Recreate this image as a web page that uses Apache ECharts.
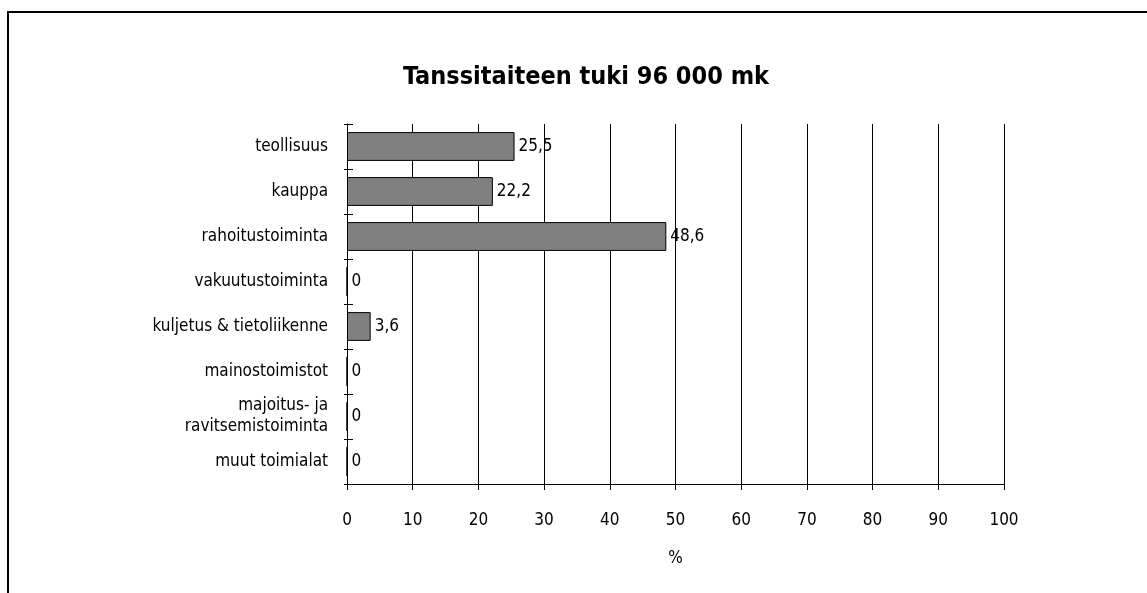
<!DOCTYPE html>
<html>
<head>
<meta charset="utf-8">
<script src="https://cdn.jsdelivr.net/npm/echarts@6/dist/echarts.min.js"></script>
<style>
  html, body { margin: 0; padding: 0; background: #fff; overflow: hidden; }
  #frame { position: absolute; left: 7px; top: 11px; width: 1200px; height: 700px; border: 2px solid #000; }
  #chart { position: absolute; left: 0; top: 0; width: 1147px; height: 593px; }
</style>
</head>
<body>
<div id="frame"></div>
<div id="chart"></div>
<script>
  // tietoja kuvasta
  const categories = ['teollisuus', 'kauppa', 'rahoitustoiminta', 'vakuutustoiminta',
    'kuljetus & tietoliikenne', 'mainostoimistot', 'majoitus- ja\nravitsemistoiminta', 'muut toimialat']
  const values = [25.5, 22.2, 48.6, 0, 3.6, 0, 0, 0]
  const xTicks = [0, 10, 20, 30, 40, 50, 60, 70, 80, 90, 100]

  const font = '"DejaVu Sans Condensed", "Liberation Sans", sans-serif'
  const chart = echarts.init(document.getElementById('chart'))

  chart.setOption({
    animation: false,
    title: {
      text: 'Tanssitaiteen tuki 96 000 mk',
      left: 581,
      textAlign: 'center',
      top: 60,
      textStyle: { fontFamily: font, fontSize: 25, fontWeight: 'bold', color: '#000' }
    },
    grid: { left: 347, right: 143, top: 124, bottom: 109 },
    xAxis: {
      type: 'value',
      min: xTicks[0],
      max: xTicks[xTicks.length - 1],
      interval: 10,
      name: '%',
      nameLocation: 'middle',
      nameGap: 66,
      nameTextStyle: { fontFamily: font, fontSize: 17, color: '#000' },
      axisLine: { show: true, lineStyle: { color: '#000', width: 1 } },
      axisTick: { show: true, length: 6, lineStyle: { color: '#000' } },
      axisLabel: { fontFamily: font, fontSize: 17, color: '#000', margin: 28 },
      splitLine: { show: true, lineStyle: { color: '#000', width: 1 } }
    },
    yAxis: [{
      type: 'category',
      data: categories,
      inverse: true,
      axisLine: { show: true, lineStyle: { color: '#000', width: 1 } },
      axisTick: { show: true, length: 3, lineStyle: { color: '#000' } },
      axisLabel: { fontFamily: font, fontSize: 17, color: '#000', margin: 19, lineHeight: 21, align: 'right' }
    }, {
      type: 'category',
      data: categories,
      inverse: true,
      position: 'left',
      axisLine: { show: false },
      axisTick: { show: true, inside: true, length: 6, lineStyle: { color: '#000' } },
      axisLabel: { show: false }
    }],
    series: [{
      type: 'bar',
      data: values,
      barCategoryGap: '36%',
      itemStyle: { color: '#808080', borderColor: '#000', borderWidth: 1 },
      label: {
        show: true,
        position: 'right',
        distance: 4,
        fontFamily: font,
        fontSize: 17,
        color: '#000',
        formatter: p => String(p.value).replace('.', ',')
      }
    }]
  })
</script>
</body>
</html>
